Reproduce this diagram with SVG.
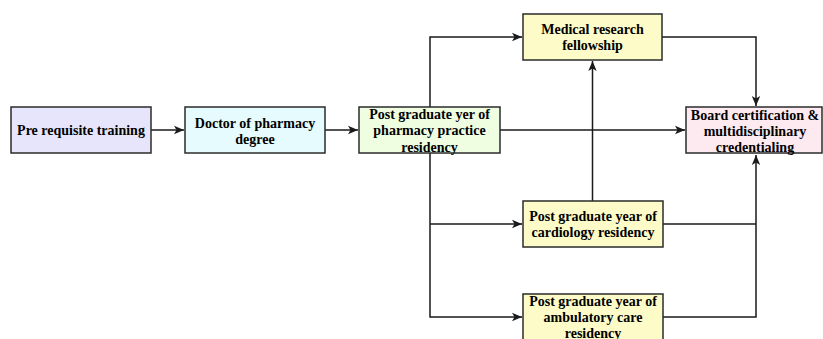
<svg xmlns="http://www.w3.org/2000/svg" width="823" height="339" viewBox="0 0 823 339">
<style>
.box{stroke:#2b2b2b;stroke-width:1.5}
.t{font-family:"Liberation Serif","Times New Roman",serif;font-weight:bold;font-size:14px;fill:#000;text-anchor:middle}
.c{fill:none;stroke:#1a1a1a;stroke-width:1.5}
</style>
<defs>
<marker id="ah" markerUnits="userSpaceOnUse" markerWidth="12" markerHeight="10" refX="11" refY="5" orient="auto">
<path d="M1,0.8 L11,5 L1,9.2 L3.5,5 z" fill="#1a1a1a"/>
</marker>
</defs>
<rect width="823" height="339" fill="#fff"/>
<g id="connectors">
<line class="c" x1="151" y1="130" x2="184" y2="130" marker-end="url(#ah)"/>
<line class="c" x1="325" y1="130" x2="358" y2="130" marker-end="url(#ah)"/>
<polyline class="c" points="430,107 430,37 522,37" marker-end="url(#ah)"/>
<polyline class="c" points="430,153 430,317 522,317" marker-end="url(#ah)"/>
<line class="c" x1="430" y1="224" x2="522" y2="224" marker-end="url(#ah)"/>
<line class="c" x1="500" y1="130" x2="685" y2="130" marker-end="url(#ah)"/>
<line class="c" x1="592.5" y1="201" x2="592.5" y2="61" marker-end="url(#ah)"/>
<polyline class="c" points="662,37 756,37 756,106" marker-end="url(#ah)"/>
<polyline class="c" points="663,224 756,224"/>
<polyline class="c" points="663,317 756,317 756,155" marker-end="url(#ah)"/>
</g>
<g id="pre">
<rect class="box" x="11" y="107" width="140" height="46" fill="#e6e5fb"/>
<text class="t" x="81" y="135">Pre requisite training</text>
</g>
<g id="doctor">
<rect class="box" x="185" y="107" width="140" height="46" fill="#e5fbfd"/>
<text class="t" x="255" y="127.5">Doctor of pharmacy</text>
<text class="t" x="255" y="143.5">degree</text>
</g>
<g id="pgy">
<rect class="box" x="359" y="107" width="141" height="46" fill="#effde0"/>
<text class="t" x="429.5" y="118.5">Post graduate yer of</text>
<text class="t" x="429.5" y="135">pharmacy practice</text>
<text class="t" x="429.5" y="151.5">residency</text>
</g>
<g id="medical">
<rect class="box" x="523" y="14" width="139" height="46" fill="#fdfcc9"/>
<text class="t" x="592.5" y="33.5">Medical research</text>
<text class="t" x="592.5" y="50">fellowship</text>
</g>
<g id="board">
<rect class="box" x="686" y="107" width="136" height="46" fill="#fde9f0"/>
<text class="t" x="755" y="119.5">Board certification &amp;</text>
<text class="t" x="755" y="136">multidisciplinary</text>
<text class="t" x="755" y="152">credentialing</text>
</g>
<g id="cardiology">
<rect class="box" x="523" y="201" width="140" height="46" fill="#fdfcc9"/>
<text class="t" x="593" y="220.5">Post graduate year of</text>
<text class="t" x="593" y="237">cardiology residency</text>
</g>
<g id="ambulatory">
<rect class="box" x="523" y="294" width="140" height="46" fill="#fdfcc9"/>
<text class="t" x="593" y="306">Post graduate year of</text>
<text class="t" x="593" y="322">ambulatory care</text>
<text class="t" x="593" y="338">residency</text>
</g>
</svg>
